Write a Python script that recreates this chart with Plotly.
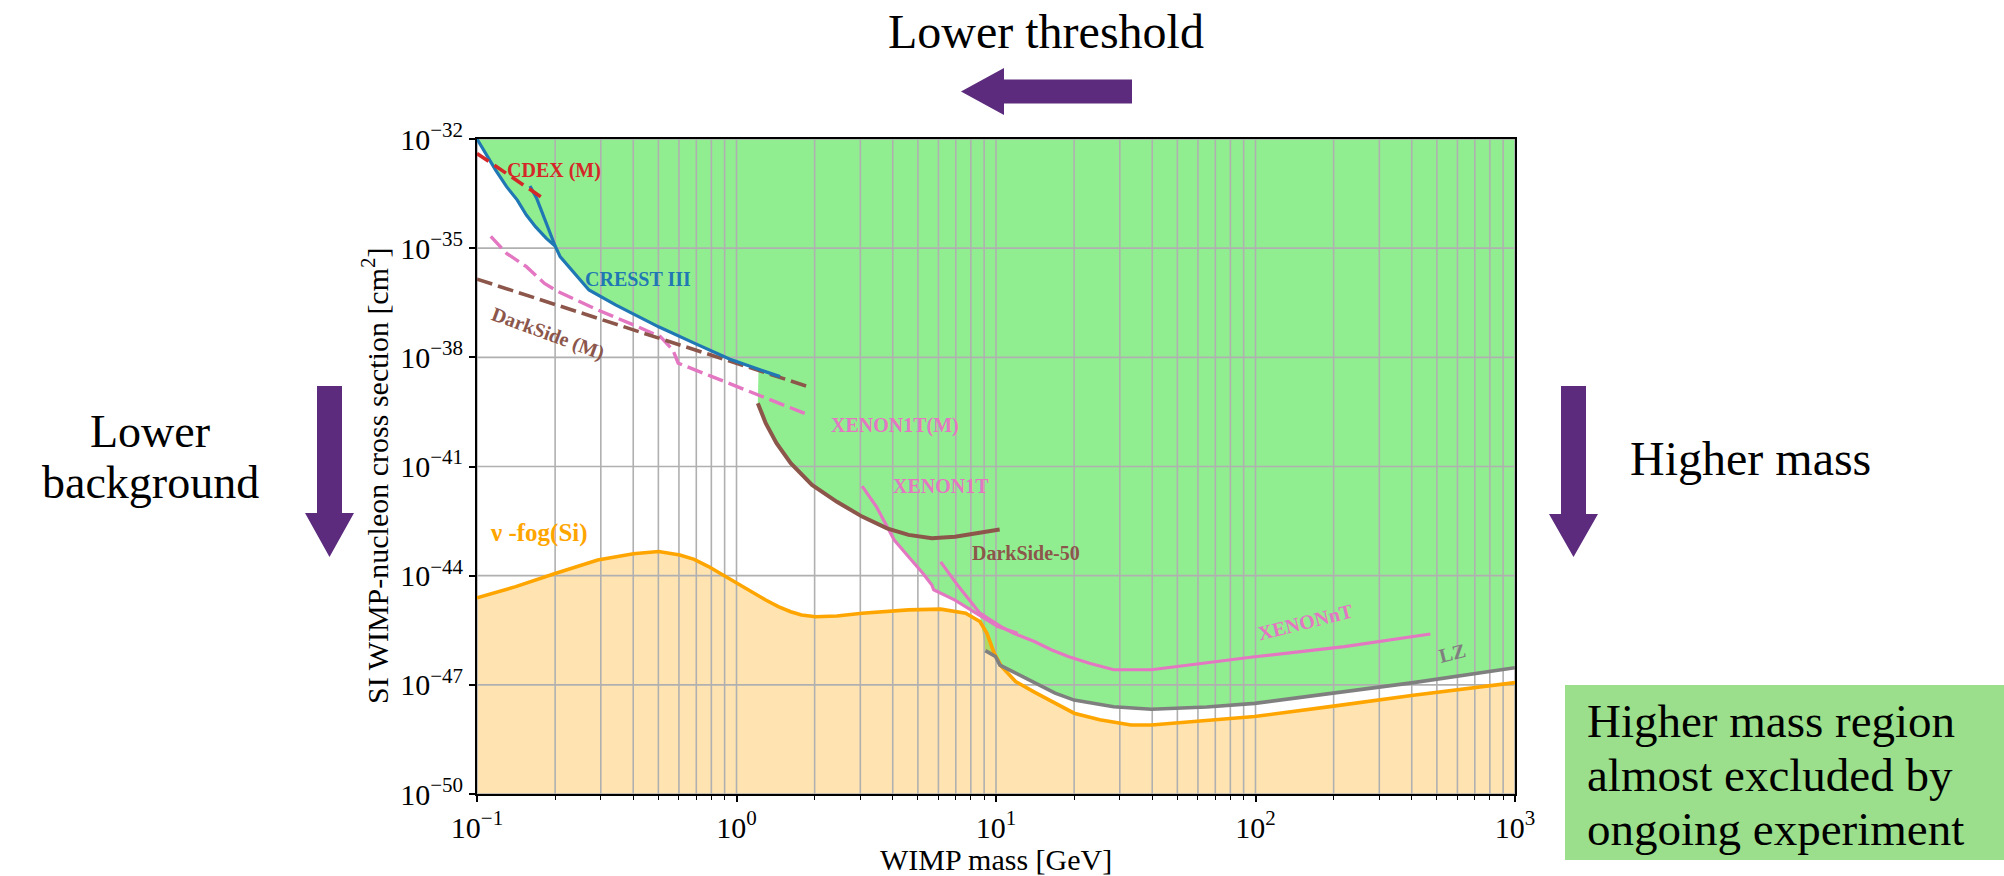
import plotly.graph_objects as go

# ---------------- data (WIMP mass in GeV, cross section in cm^2) ----------------
cresst_mass = [0.100, 0.118, 0.130, 0.143, 0.155, 0.168, 0.185, 0.200, 0.209, 0.234,
               0.270, 0.342, 0.501, 0.687, 0.944, 1.216, 1.472]
cresst_sigma = [1.0e-32, 1.4e-33, 4.9e-34, 2.1e-34, 8.1e-35, 3.9e-35, 1.86e-35, 1.15e-35,
                5.9e-36, 2.24e-36, 7.1e-37, 2.75e-37, 6.9e-38, 2.45e-38, 8.9e-39, 4.7e-39, 2.95e-39]
cresst_branch_mass = [0.160, 0.170, 0.200]
cresst_branch_sigma = [5.1e-34, 2.3e-34, 1.15e-35]

cdex_mass = [0.100, 0.130, 0.185]
cdex_sigma = [4.0e-33, 1.12e-33, 2.04e-34]

darkside_m_mass = [0.100, 0.440, 1.90]
darkside_m_sigma = [1.41e-36, 4.6e-38, 1.55e-39]

xenon1t_m_mass = [0.113, 0.130, 0.155, 0.182, 0.206, 0.292, 0.401, 0.509, 0.569, 0.596,
                  0.805, 1.178, 1.897]
xenon1t_m_sigma = [2.1e-35, 7.2e-36, 3.1e-36, 1.07e-36, 6.3e-37, 2.0e-37, 7.8e-38, 3.7e-38,
                   1.58e-38, 6.9e-39, 2.95e-39, 1.02e-39, 2.6e-40]

ds50_mass = [1.208, 1.296, 1.426, 1.618, 1.954, 2.438, 3.048, 3.802, 4.603, 5.662,
             6.950, 8.670, 10.33]
ds50_sigma = [5.5e-40, 1.55e-40, 4.4e-41, 1.23e-41, 3.1e-42, 1.07e-42, 4.2e-43, 2.0e-43,
              1.32e-43, 1.07e-43, 1.17e-43, 1.51e-43, 1.86e-43]

xenon1t_mass = [3.048, 3.459, 3.802, 4.055, 4.603, 5.224, 5.662, 5.754, 6.950, 8.670,
                10.16, 12.11]
xenon1t_sigma = [2.9e-42, 7.9e-43, 2.24e-43, 9.5e-44, 3.3e-44, 1.17e-44, 5.5e-45, 4.1e-45,
                 2.14e-45, 8.3e-46, 4.0e-46, 2.6e-46]

xenonnt_mass = [6.12, 7.18, 8.67, 10.45, 11.7, 14.06, 16.4, 19.1, 22.9, 28.4, 39.7, 99.3,
                220, 472]
xenonnt_sigma = [2.4e-44, 5.0e-45, 9.3e-46, 4.0e-46, 2.6e-46, 1.55e-46, 9.1e-47, 5.9e-47,
                 3.9e-47, 2.6e-47, 2.6e-47, 5.9e-47, 1.12e-46, 2.5e-46]

lz_mass = [9.10, 9.95, 10.35, 11.9, 14.06, 16.9, 20.0, 25.1, 28.4, 39.7, 64.9, 99.3, 200,
           406, 1000]
lz_sigma = [8.7e-47, 6.0e-47, 3.5e-47, 2.1e-47, 1.1e-47, 5.9e-48, 3.8e-48, 2.8e-48, 2.5e-48,
            2.14e-48, 2.45e-48, 3.1e-48, 5.9e-48, 1.15e-47, 2.95e-47]

nufog_mass = [0.100, 0.141, 0.200, 0.292, 0.401, 0.501, 0.605, 0.687, 0.780, 0.886, 1.005,
              1.142, 1.296, 1.449, 1.618, 1.78, 2.018, 2.44, 3.048, 4.603, 6.12, 7.64, 8.67,
              9.23, 9.84, 10.50, 11.9, 14.06, 16.9, 20.0, 25.1, 33.1, 39.7, 99.3, 200, 406,
              1000]
nufog_sigma = [2.45e-45, 5.0e-45, 1.15e-44, 2.7e-44, 4.0e-44, 4.6e-44, 3.7e-44, 2.8e-44,
               1.78e-44, 1.05e-44, 6.2e-45, 3.5e-45, 2.14e-45, 1.41e-45, 1.02e-45, 8.3e-46,
               7.4e-46, 7.8e-46, 9.3e-46, 1.15e-45, 1.2e-45, 9.3e-46, 5.5e-46, 2.6e-46,
               7.4e-47, 3.2e-47, 1.23e-47, 6.3e-48, 3.1e-48, 1.66e-48, 1.1e-48, 7.9e-49,
               7.9e-49, 1.35e-48, 2.6e-48, 5.2e-48, 1.15e-47]

x_range_exp = [-1, 3]
y_range_exp = [-50, -32]
x_tick_vals = [0.1, 1, 10, 100, 1000]
x_tick_text = ["10<sup>−1</sup>", "10<sup>0</sup>", "10<sup>1</sup>", "10<sup>2</sup>", "10<sup>3</sup>"]
y_tick_exps = [-50, -47, -44, -41, -38, -35, -32]
y_tick_vals = [10.0 ** e for e in y_tick_exps]
y_tick_text = ["10<sup>−%d</sup>" % (-e) for e in y_tick_exps]
x_grid_vals = [k * 10.0 ** e for e in (-1, 0, 1, 2) for k in range(1, 10)] + [1000]
x_minor_vals = [v for v in x_grid_vals if v not in x_tick_vals]

X_MIN, X_MAX = 10.0 ** x_range_exp[0], 10.0 ** x_range_exp[1]
Y_MIN, Y_MAX = 10.0 ** y_range_exp[0], 10.0 ** y_range_exp[1]

# excluded-region envelope, assembled from the solid limit curves
env_mass = cresst_mass[:16] + ds50_mass[:8] + xenon1t_mass[3:10] + lz_mass
env_sigma = cresst_sigma[:16] + ds50_sigma[:8] + xenon1t_sigma[3:10] + lz_sigma

# ---------------- colours ----------------
BLUE = "#1f77b4"
RED = "#d62728"
BROWN = "#8c564b"
PINK = "#e377c2"
GREY = "#7f7f7f"
ORANGE = "#ffa500"
PURPLE = "#5c2b7d"
SERIF = "Liberation Serif"

# ---------------- geometry (pixels) ----------------
W, H = 2004, 876
L, R, T, B = 477, 1515, 139, 794
PW, PH = R - L, B - T


def px(x):
    return (x - L) / PW


def py(y):
    return (B - y) / PH


fig = go.Figure()

# green excluded region
fig.add_trace(go.Scatter(x=[X_MIN, X_MAX], y=[Y_MAX, Y_MAX], mode="lines",
                         line=dict(width=0), hoverinfo="skip"))
fig.add_trace(go.Scatter(x=env_mass, y=env_sigma, mode="lines", line=dict(width=0),
                         fill="tonexty", fillcolor="#90ee90", hoverinfo="skip"))
# neutrino fog fill
fig.add_trace(go.Scatter(x=[X_MIN, X_MAX], y=[Y_MIN, Y_MIN], mode="lines",
                         line=dict(width=0), hoverinfo="skip"))
fig.add_trace(go.Scatter(x=nufog_mass, y=nufog_sigma, mode="lines", line=dict(width=0),
                         fill="tonexty", fillcolor="rgba(255,165,0,0.3)", hoverinfo="skip"))

# grid lines above the fills
gx, gy = [], []
for v in x_grid_vals:
    gx += [v, v, None]
    gy += [Y_MIN, Y_MAX, None]
fig.add_trace(go.Scatter(x=gx, y=gy, mode="lines", line=dict(color="#b0b0b0", width=1.6),
                         hoverinfo="skip"))
hx, hy = [], []
for v in y_tick_vals:
    hx += [X_MIN, X_MAX, None]
    hy += [v, v, None]
fig.add_trace(go.Scatter(x=hx, y=hy, mode="lines", line=dict(color="#b0b0b0", width=1.6),
                         hoverinfo="skip"))


def line(xs, ys, color, width=3.2, dash=None):
    fig.add_trace(go.Scatter(x=xs, y=ys, mode="lines",
                             line=dict(color=color, width=width, dash=dash),
                             hoverinfo="skip"))


line(nufog_mass, nufog_sigma, ORANGE, 3.6)
line(lz_mass, lz_sigma, GREY, 3.6)
line(xenonnt_mass, xenonnt_sigma, PINK, 3.2)
line(xenon1t_mass, xenon1t_sigma, PINK, 3.2)
line(ds50_mass, ds50_sigma, BROWN, 4.0)
line(xenon1t_m_mass, xenon1t_m_sigma, PINK, 3.4, "16px,6px")
line(darkside_m_mass, darkside_m_sigma, BROWN, 3.6, "16px,6px")
line(cresst_mass, cresst_sigma, BLUE, 3.2)
line(cresst_branch_mass, cresst_branch_sigma, BLUE, 3.2)
line(cdex_mass, cdex_sigma, RED, 3.6, "14px,7px")


def ann(text, x, y, size, color="black", bold=False, angle=0, xanchor="center", family=SERIF):
    return dict(text=("<b>%s</b>" % text) if bold else text, x=px(x), y=py(y),
                xref="paper", yref="paper", showarrow=False, textangle=angle,
                font=dict(family=family, size=size, color=color),
                xanchor=xanchor, yanchor="middle")


annotations = [
    # in-plot labels
    ann("CDEX (M)", 554, 170, 20, RED, True),
    ann("CRESST III", 638, 279, 20, BLUE, True),
    ann("DarkSide (M)", 548, 333, 20, BROWN, True, 20),
    ann("XENON1T(M)", 895, 425, 20, PINK, True),
    ann("XENON1T", 941, 486, 20, PINK, True),
    ann("DarkSide-50", 1026, 553, 20, BROWN, True),
    ann("XENONnT", 1305, 622, 20, PINK, True, -14),
    ann("LZ", 1452, 653, 20, GREY, True, -14),
    ann("ν -fog(Si)", 539, 533, 25, ORANGE, True),
    # axis titles
    ann("SI WIMP-nucleon cross section [cm<sup>2</sup>]", 375, 476, 30, "black", False, -90),
    ann("WIMP mass [GeV]", 996, 860, 30),
    # slide annotations
    ann("Lower threshold", 1046, 32, 48),
    ann("Lower", 150, 431, 46),
    ann("background", 150, 482, 46),
    ann("Higher mass", 1750, 458, 48),
    ann("Higher mass region", 1585, 721, 47, xanchor="left"),
    ann("almost excluded by", 1585, 775, 47, xanchor="left"),
    ann("ongoing experiment", 1585, 829, 47, xanchor="left"),
]


def path(points):
    return "M " + " L ".join("%.5f,%.5f" % (px(a), py(b)) for a, b in points) + " Z"


shapes = [
    dict(type="rect", xref="paper", yref="paper", x0=px(1565), x1=px(2004),
         y0=py(860), y1=py(685), fillcolor="#9bde8b", line=dict(width=0), layer="below"),
    dict(type="path", xref="paper", yref="paper", fillcolor=PURPLE, line=dict(width=0),
         path=path([(317, 386), (342, 386), (342, 513), (354, 513), (329.5, 557),
                    (305, 513), (317, 513)])),
    dict(type="path", xref="paper", yref="paper", fillcolor=PURPLE, line=dict(width=0),
         path=path([(1561, 386), (1586, 386), (1586, 514), (1598, 514), (1573.5, 557),
                    (1549, 514), (1561, 514)])),
    dict(type="path", xref="paper", yref="paper", fillcolor=PURPLE, line=dict(width=0),
         path=path([(961, 91.5), (1004, 68), (1004, 79.5), (1132, 79.5), (1132, 103.5),
                    (1004, 103.5), (1004, 115)])),
]

axis_common = dict(type="log", showline=True, linecolor="black", linewidth=2, mirror=True,
                   ticks="outside", tickcolor="black", tickwidth=1.6, showgrid=False,
                   zeroline=False, automargin=False, tickmode="array",
                   tickfont=dict(family=SERIF, size=30, color="black"))

fig.update_layout(
    width=W, height=H, autosize=False,
    margin=dict(l=L, r=W - R, t=T, b=H - B, pad=0),
    paper_bgcolor="white", plot_bgcolor="white",
    showlegend=False, template="none",
    xaxis=dict(axis_common, range=x_range_exp, tickvals=x_tick_vals, ticktext=x_tick_text,
               ticklen=6,
               minor=dict(tickmode="array", tickvals=x_minor_vals, ticks="outside", ticklen=4,
                          tickwidth=1.2, tickcolor="black", showgrid=False)),
    yaxis=dict(axis_common, range=y_range_exp, tickvals=y_tick_vals, ticktext=y_tick_text,
               ticklen=6),
    annotations=annotations,
    shapes=shapes,
)

fig.write_html("out.html", config={"displayModeBar": False},
               post_script="document.body.style.margin='0px';")
